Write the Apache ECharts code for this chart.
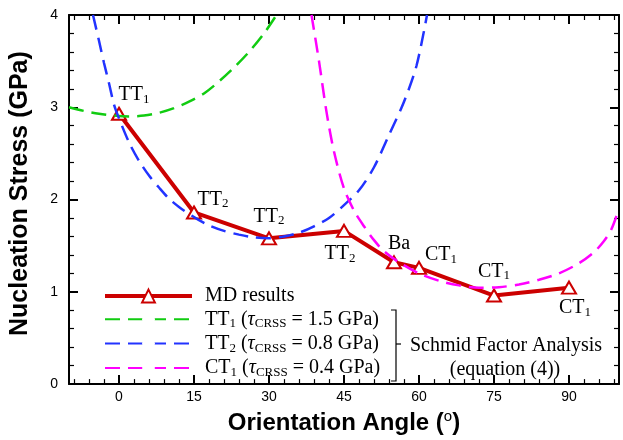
<!DOCTYPE html>
<html><head><meta charset="utf-8">
<script src="https://cdn.jsdelivr.net/npm/echarts@6/dist/echarts.min.js"></script>
<style>html,body{margin:0;padding:0;background:#fff}#c{width:623px;height:440px}</style>
</head><body><div id="c"></div>
<script>
// ---- data ----
const mdAngles = [0, 15, 30, 45, 55, 60, 75, 90];
const mdStress = [2.93, 1.86, 1.58, 1.66, 1.32, 1.26, 0.96, 1.045];
const mdLabels = ['TT1', 'TT2', 'TT2', 'TT2', 'Ba', 'CT1', 'CT1', 'CT1'];

const tt1Angles = [-10, -7, -4, -1, 2, 5, 8, 11, 14, 17, 20, 23, 26, 29, 31.5];
const tt1Stress = [3.00, 2.96, 2.93, 2.91, 2.90, 2.91, 2.94, 2.99, 3.06, 3.15, 3.28, 3.43, 3.60, 3.80, 4.00];

const tt2Angles = [-5.2, -4, -3, -2, -1, 0, 2, 4, 6, 8, 10, 12, 15, 18, 21, 24, 27, 30, 33, 36, 39, 42, 45, 48, 51, 54, 57, 59.5, 61.6];
const tt2Stress = [4.00, 3.72, 3.48, 3.26, 3.03, 2.88, 2.62, 2.42, 2.26, 2.13, 2.01, 1.92, 1.81, 1.72, 1.66, 1.62, 1.59, 1.58, 1.60, 1.64, 1.71, 1.80, 1.94, 2.10, 2.35, 2.70, 3.06, 3.45, 4.00];

const ct1Angles = [38.5, 40, 41.5, 43, 45, 47, 49, 51, 53, 56, 60, 64, 68, 72, 76, 80, 84, 88, 92, 95, 97, 98.5, 100];
const ct1Stress = [4.00, 3.50, 2.95, 2.52, 2.12, 1.88, 1.71, 1.56, 1.44, 1.32, 1.20, 1.12, 1.07, 1.045, 1.05, 1.08, 1.13, 1.20, 1.31, 1.43, 1.55, 1.68, 1.90];

const xTickValues = [0, 15, 30, 45, 60, 75, 90];
const yTickValues = [0, 1, 2, 3, 4];
const seriesNames = ['MD results', 'TT1', 'TT2', 'CT1'];
const legendTexts = {
  'MD results': '{n|MD results}',
  'TT1': '{n|TT}{s|1}{n| (}{t|τ}{c|CRSS}{n| = 1.5 GPa)}',
  'TT2': '{n|TT}{s|2}{n| (}{t|τ}{c|CRSS}{n| = 0.8 GPa)}',
  'CT1': '{n|CT}{s|1}{n| (}{t|τ}{c|CRSS}{n| = 0.4 GPa)}'
};

// ---- layout / styles ----
const labelOffsets = [[15,-19],[19,-13],[0,-22],[-4,23],[5,-19],[22,-13],[0,-24],[6,20]];
const xMinorTicks = [];
for (let v = -9; v <= 99; v += 3) if (v % 15 !== 0) xMinorTicks.push(v);
const SERIF = '"Liberation Serif","Times New Roman",serif';
const SANS = '"Liberation Sans",Arial,sans-serif';
const RED = '#cc0000';
const richText = {
  n: {fontFamily: SERIF, fontSize: 20, color: '#000', lineHeight: 22},
  s: {fontFamily: SERIF, fontSize: 13, color: '#000', lineHeight: 14, verticalAlign: 'bottom'},
  t: {fontFamily: SERIF, fontSize: 20, color: '#000', lineHeight: 22, fontStyle: 'italic'},
  c: {fontFamily: SERIF, fontSize: 13, color: '#000', lineHeight: 10, verticalAlign: 'bottom'}
};
function toRich(s) {
  const m = s.match(/^([A-Za-z]+)(\d)$/);
  return m ? '{n|' + m[1] + '}{s|' + m[2] + '}' : '{n|' + s + '}';
}
function pairs(xs, ys) { return xs.map((x, i) => [x, ys[i]]); }

const mdData = mdAngles.map((x, i) => ({
  value: [x, mdStress[i]],
  label: {show: true, position: 'inside', offset: labelOffsets[i], formatter: toRich(mdLabels[i]), rich: richText}
}));

const axisLine = {show: true, onZero: false, lineStyle: {color: '#000', width: 2}};
const noLine = {show: false, onZero: false};
const majorTick = (vals) => ({show: true, inside: true, length: 9, lineStyle: {color: '#000', width: 2}, customValues: vals});
const minorTickCfg = (vals) => ({show: true, inside: true, length: 5, lineStyle: {color: '#000', width: 1.2}, customValues: vals});

const chart = echarts.init(document.getElementById('c'), null, {renderer: 'canvas'});
chart.setOption({
  animation: false,
  backgroundColor: '#fff',
  grid: {left: 69, right: 4, top: 15, bottom: 46},
  xAxis: [
    {type: 'value', position: 'bottom', min: -10, max: 100, axisLine,
     axisTick: majorTick(xTickValues),
     axisLabel: {customValues: xTickValues, margin: 6, fontFamily: SANS, fontSize: 14, color: '#000'},
     splitLine: {show: false},
     name: '{t|Orientation Angle (}{u|o}{t|)}', nameLocation: 'middle', nameGap: 12,
     nameTextStyle: {rich: {
       t: {fontFamily: SANS, fontSize: 24, fontWeight: 'bold', color: '#000', lineHeight: 28},
       u: {fontFamily: SANS, fontSize: 15, color: '#000', lineHeight: 18, verticalAlign: 'top'}
     }}},
    {type: 'value', position: 'bottom', min: -10, max: 100, axisLine: noLine,
     axisTick: minorTickCfg(xMinorTicks), axisLabel: {show: false}, splitLine: {show: false}},
    {type: 'value', position: 'top', min: -10, max: 100, axisLine,
     axisTick: majorTick(xTickValues), axisLabel: {show: false}, splitLine: {show: false}},
    {type: 'value', position: 'top', min: -10, max: 100, axisLine: noLine,
     axisTick: minorTickCfg(xMinorTicks), axisLabel: {show: false}, splitLine: {show: false}}
  ],
  yAxis: [
    {type: 'value', position: 'left', min: 0, max: 4, interval: 1, axisLine,
     axisTick: {show: true, inside: true, length: 9, lineStyle: {color: '#000', width: 2}},
     minorTick: {show: true, splitNumber: 5, length: 5, lineStyle: {color: '#000', width: 1.2}},
     axisLabel: {margin: 11, fontFamily: SANS, fontSize: 14, color: '#000'},
     splitLine: {show: false},
     name: 'Nucleation Stress (GPa)', nameLocation: 'middle', nameGap: 36,
     nameTextStyle: {fontFamily: SANS, fontSize: 25, fontWeight: 'bold', color: '#000', padding: [0, 0, 0, 12]}},
    {type: 'value', position: 'right', min: 0, max: 4, interval: 1, axisLine,
     axisTick: {show: true, inside: true, length: 9, lineStyle: {color: '#000', width: 2}},
     minorTick: {show: true, splitNumber: 5, length: 5, lineStyle: {color: '#000', width: 1.2}},
     axisLabel: {show: false}, splitLine: {show: false}}
  ],
  legend: {
    orient: 'vertical', left: 103, top: 286, padding: 0, itemGap: 3.3,
    itemWidth: 87, itemHeight: 16,
    data: [
      {name: 'MD results', lineStyle: {width: 4, color: RED}},
      {name: 'TT1', itemStyle: {color: 'rgba(0,0,0,0)', borderWidth: 0}},
      {name: 'TT2', itemStyle: {color: 'rgba(0,0,0,0)', borderWidth: 0}},
      {name: 'CT1', itemStyle: {color: 'rgba(0,0,0,0)', borderWidth: 0}}
    ],
    formatter: (name) => legendTexts[name],
    textStyle: {padding: [0, 0, 0, 8], rich: richText}
  },
  series: [
    {name: seriesNames[0], type: 'line', xAxisIndex: 0, yAxisIndex: 0, z: 2,
     data: mdData, symbol: 'triangle', symbolSize: [14, 12],
     lineStyle: {color: RED, width: 4},
     itemStyle: {color: '#fff', borderColor: RED, borderWidth: 2}},
    {name: seriesNames[1], type: 'line', xAxisIndex: 0, yAxisIndex: 0, z: 3,
     data: pairs(tt1Angles, tt1Stress), showSymbol: false, smooth: 0.3,
     lineStyle: {color: '#11cc11', width: 2.5, type: [15, 8]}, itemStyle: {color: '#11cc11'}},
    {name: seriesNames[2], type: 'line', xAxisIndex: 0, yAxisIndex: 0, z: 3,
     data: pairs(tt2Angles, tt2Stress), showSymbol: false, smooth: 0.3,
     lineStyle: {color: '#2233ff', width: 2.5, type: [15, 8]}, itemStyle: {color: '#2233ff'}},
    {name: seriesNames[3], type: 'line', xAxisIndex: 0, yAxisIndex: 0, z: 3,
     data: pairs(ct1Angles, ct1Stress), showSymbol: false, smooth: 0.3,
     lineStyle: {color: '#ff00ff', width: 2.5, type: [15, 8]}, itemStyle: {color: '#ff00ff'}}
  ],
  graphic: [
    {type: 'polyline', shape: {points: [[391, 310], [396, 310], [396, 381], [391, 381]]}, style: {stroke: '#000', lineWidth: 1.2, fill: null}},
    {type: 'line', shape: {x1: 396, y1: 344, x2: 401, y2: 344}, style: {stroke: '#000', lineWidth: 1.2}},
    {type: 'text', x: 506, y: 346, style: {text: 'Schmid Factor Analysis', font: '20px ' + SERIF, fill: '#000', align: 'center', verticalAlign: 'middle'}},
    {type: 'text', x: 505, y: 370, style: {text: '(equation (4))', font: '20px ' + SERIF, fill: '#000', align: 'center', verticalAlign: 'middle'}}
  ]
});
</script></body></html>
